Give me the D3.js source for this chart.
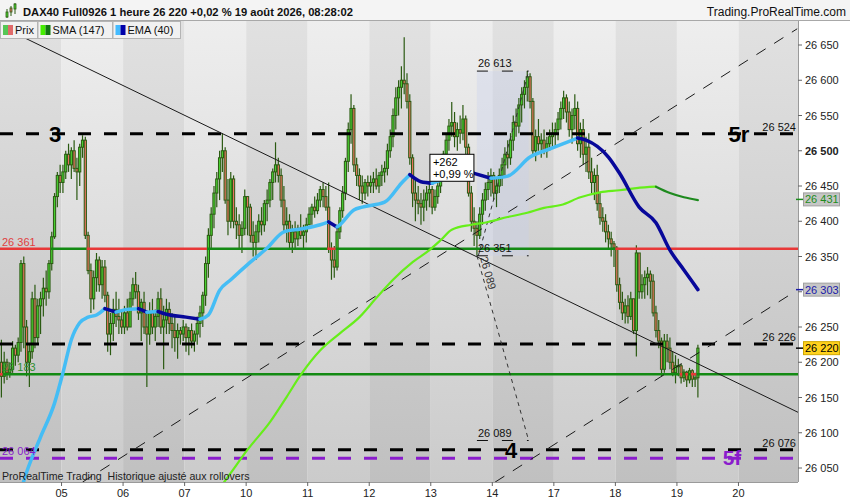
<!DOCTYPE html>
<html>
<head>
<meta charset="utf-8">
<script src="https://cdn.jsdelivr.net/npm/d3@7"></script>
<style>
  body { margin: 0; background: #fff; }
  svg { display: block; font-family: "Liberation Sans", Arial, sans-serif; }
</style>
</head>
<body>
<svg id="chart" width="850" height="500"></svg>
<script>
// ---- data ----------------------------------------------------------------
// prices are stored as points above BASE; each bar is [high, low, close]
// and opens at the previous close
const BASE = 26000;
const firstOpen = 26200;
const barsPerDay = 22;
const dayLabels = ["05", "06", "07", "10", "11", "12", "13", "14", "17", "18", "19", "20"];

const day04 = [[232,150,180],[215,170,200],[205,175,185],[200,178,190],[230,185,220],[225,195,210],[235,200,228],[345,215,340],[350,220,250],[260,180,200],[225,165,215],[300,205,290],[310,220,235],[290,225,280],[300,240,290],[320,265,305],[330,280,300],[345,290,340],[385,330,378],[440,375,435],[470,420,465],[480,440,455]];
const day05 = [[480,440,470],[500,460,495],[510,470,480],[505,460,500],[515,470,475],[490,430,470],[510,450,505],[522,490,515],[520,375,380],[385,325,330],[340,270,290],[330,275,320],[355,300,345],[350,300,310],[345,290,335],[345,285,295],[300,215,240],[270,210,255],[290,230,275],[300,250,265],[290,240,260],[275,240,250]];
const day06 = [[280,240,270],[290,245,250],[300,250,290],[320,280,310],[328,290,300],[310,260,270],[290,230,285],[300,240,250],[270,165,240],[285,225,270],[290,240,250],[275,230,265],[300,250,290],[305,240,250],[280,190,260],[290,240,275],[285,240,255],[270,220,245],[265,215,235],[255,205,245],[250,225,240],[260,230,250]];
const day07 = [[255,215,235],[250,210,245],[255,220,230],[245,215,240],[265,225,255],[280,235,270],[300,250,295],[350,280,340],[390,320,380],[420,360,410],[450,390,440],[470,420,460],[500,430,490],[525,470,500],[505,425,430],[460,380,400],[470,390,460],[465,390,400],[420,375,395],[410,360,380],[400,355,390],[445,380,435]];
const day10 = [[430,380,420],[425,370,380],[400,350,370],[395,345,385],[410,370,400],[420,380,395],[430,385,425],[445,400,430],[460,420,455],[475,430,470],[512,455,480],[490,455,465],[475,420,430],[450,385,395],[420,370,400],[410,360,370],[395,355,385],[400,360,375],[395,365,390],[410,375,380],[395,360,385],[405,370,395]];
const day11 = [[420,395,410],[425,395,420],[435,405,415],[440,410,430],[450,420,445],[455,420,435],[450,415,420],[455,355,360],[370,317,345],[365,320,335],[395,330,385],[420,375,415],[450,405,440],[490,430,485],[540,470,530],[580,510,560],[565,470,480],[490,450,465],[475,430,450],[465,425,440],[460,430,455],[465,435,450]];
const day12 = [[465,440,455],[470,440,460],[475,445,450],[470,440,465],[480,450,470],[485,455,475],[510,465,500],[530,490,520],[560,505,550],[590,530,575],[600,550,590],[620,560,600],[661,580,595],[610,560,570],[580,480,490],[495,420,440],[460,400,430],[450,410,425],[440,395,420],[445,400,430],[450,415,440],[455,420,445]];
const day13 = [[450,410,420],[445,415,435],[460,425,450],[480,440,470],[500,460,495],[525,480,515],[545,500,535],[569,520,540],[555,505,520],[540,500,530],[550,510,525],[565,515,545],[550,495,505],[510,435,440],[450,385,400],[420,365,390],[400,351,380],[420,375,410],[440,395,430],[455,415,445],[470,430,455],[475,435,465]];
const day14 = [[470,430,440],[460,420,450],[475,440,465],[490,450,480],[505,465,495],[515,475,490],[525,480,515],[550,500,540],[560,520,535],[575,525,565],[590,540,580],[600,560,590],[613,570,605],[610,560,570],[575,495,500],[530,485,520],[545,500,510],[525,490,515],[530,495,500],[520,490,510],[530,500,520],[540,505,525]];
const day17 = [[540,505,530],[555,515,545],[570,530,560],[585,545,575],[580,540,555],[570,520,530],[560,510,550],[580,530,560],[570,500,510],[540,490,530],[545,480,495],[520,470,505],[525,460,470],[490,440,455],[475,430,465],[480,415,425],[440,395,405],[420,385,400],[410,370,385],[395,360,375],[385,350,368],[372,335,362]];
const day18 = [[365,300,310],[320,275,285],[300,260,270],[290,255,280],[295,255,265],[300,260,290],[290,240,245],[366,208,355],[350,290,300],[325,290,310],[330,290,320],[335,295,325],[330,290,315],[325,265,270],[280,235,245],[260,220,230],[235,180,190],[240,185,230],[240,200,220],[235,190,200],[215,180,185],[210,170,195]];
const day19 = [[205,180,195],[198,170,178],[190,172,186],[188,165,175],[192,170,188],[190,165,176],[185,165,178],[225,150,220]];

// moving averages: [bar index, value above BASE]
const sma147 = [[76,10],[82,43],[88,76],[96,115],[102,151],[107,182],[114,217],[121,241],[128,264],[134,291],[140,317],[147,342],[153,359],[157,373],[161,388],[168,395],[174,399],[181,406],[188,412],[194,419],[200,423],[207,434],[214,441],[221,444],[227,447],[234,449],[239,440],[244,434],[249,430]];
const ema40 = [[6,5],[9,44],[14,94],[19,142],[22,185],[25,232],[28,256],[31,264],[34,267],[37,276],[41,271],[45,275],[49,276],[52,271],[56,272],[59,268],[66,264],[71,261],[74,267],[78,302],[82,317],[89,342],[95,362],[101,385],[107,389],[114,395],[117,399],[120,392],[121,395],[126,416],[129,420],[137,427],[143,454],[146,466],[150,456],[154,454],[159,461],[169,468],[175,461],[181,464],[189,491],[197,504],[206,518],[209,515],[217,491],[221,468],[228,420],[234,398],[239,359],[244,331],[249,303]];

// drawn levels
const blackLevels = [26524, 26226, 26076];
const purpleLevel = 26064;
const switchLevels = [26361, 26183];      // green above price, red below
const axisTicks = [26050, 26100, 26150, 26200, 26250, 26300, 26350, 26400, 26450, 26500, 26550, 26600, 26650];

// trend lines: [[bar, price], [bar, price]]
const trendDown = [[-0.5, 26677], [284.8, 26129]];
const channelUpper = [[29, 26030], [284.5, 26673]];
const channelLower = [[176.5, 26030], [281.2, 26294]];

// measure tool
const measureStart = 170, measureEnd = 188.5;
const measureLow = 26351, measureHigh = 26613, measureProj = 26089;

// wave labels
const waveLabels = [
  { text: "3", bar: 19.2, price: 26524 },
  { text: "5r", bar: 263.7, price: 26524 },
  { text: "4", bar: 182.2, price: 26076 }
];
const waveLabelF = { text: "5f", bar: 261.2, price: 26064 };

const lastPrice = 26220, lastSma = 26431, lastEma = 26303;

// ---- setup ---------------------------------------------------------------
const svg = d3.select("#chart");
const plotRight = 798, plotTop = 21, plotBottom = 482;
const x = d3.scaleLinear().domain([-0.5, 285.5]).range([0, 800]);
const y = d3.scaleLinear().domain([26050, 26650]).range([468, 45]);
const fmt = d3.formatLocale({ decimal: ",", thousands: " ", grouping: [3], currency: ["", ""] }).format(",d");

const GREEN_BODY = "#48d030", RED_BODY = "#e8735f", OUTLINE = "#2b5a12";

const allBars = [].concat(day04, day05, day06, day07, day10, day11, day12, day13, day14, day17, day18, day19);
let prevClose = firstOpen;
const candles = allBars.map(function(b, i) {
  const c = { i: i, o: prevClose, h: BASE + b[0], l: BASE + b[1], c: BASE + b[2] };
  c.h = Math.max(c.h, c.o, c.c);
  c.l = Math.min(c.l, c.o, c.c);
  prevClose = c.c;
  return c;
});

const defs = svg.append("defs");
function gradient(id, top, bottom) {
  const g = defs.append("linearGradient").attr("id", id)
    .attr("gradientUnits", "userSpaceOnUse")
    .attr("x1", 0).attr("x2", 0).attr("y1", plotTop).attr("y2", plotBottom);
  g.append("stop").attr("offset", 0).attr("stop-color", top);
  g.append("stop").attr("offset", 1).attr("stop-color", bottom);
}
gradient("bandLight", "#eeeeee", "#cbcbcb");
gradient("bandDark", "#e1e1e1", "#c0c0c0");
defs.append("clipPath").attr("id", "plotClip")
  .append("rect").attr("x", 0).attr("y", plotTop).attr("width", plotRight).attr("height", plotBottom - plotTop);

svg.append("rect").attr("width", 850).attr("height", 500).attr("fill", "#ffffff");

// day bands
const bands = svg.append("g").attr("clip-path", "url(#plotClip)");
d3.range(dayLabels.length + 1).forEach(function(k) {
  bands.append("rect")
    .attr("x", x(k * barsPerDay - 0.5)).attr("y", plotTop)
    .attr("width", x((k + 1) * barsPerDay - 0.5) - x(k * barsPerDay - 0.5))
    .attr("height", plotBottom - plotTop)
    .attr("fill", k % 2 === 0 ? "url(#bandDark)" : "url(#bandLight)");
});

const plot = svg.append("g").attr("clip-path", "url(#plotClip)");

// measure shading
plot.append("rect")
  .attr("x", x(measureStart)).attr("y", y(measureHigh))
  .attr("width", x(measureEnd) - x(measureStart))
  .attr("height", y(measureLow) - y(measureHigh))
  .attr("fill", "#c8d2ee").attr("opacity", 0.35);

// candles
const cg = plot.append("g");
cg.selectAll("line.wick").data(candles).join("line")
  .attr("x1", d => x(d.i)).attr("x2", d => x(d.i))
  .attr("y1", d => y(d.h)).attr("y2", d => y(d.l))
  .attr("stroke", OUTLINE).attr("stroke-width", 1.2);
cg.selectAll("rect.body").data(candles).join("rect")
  .attr("x", d => x(d.i) - 1.1).attr("width", 2.2)
  .attr("y", d => y(Math.max(d.o, d.c)))
  .attr("height", d => Math.max(1, Math.abs(y(d.o) - y(d.c))))
  .attr("fill", d => d.c >= d.o ? GREEN_BODY : RED_BODY)
  .attr("stroke", OUTLINE).attr("stroke-width", 1);

// horizontal levels
blackLevels.forEach(function(v) {
  plot.append("line").attr("x1", 0).attr("x2", 795).attr("y1", y(v)).attr("y2", y(v))
    .attr("stroke", "#000").attr("stroke-width", 3).attr("stroke-dasharray", "13,13");
});
plot.append("line").attr("x1", 0).attr("x2", 795).attr("y1", y(purpleLevel)).attr("y2", y(purpleLevel))
  .attr("stroke", "#8a1ccc").attr("stroke-width", 3).attr("stroke-dasharray", "13,13");

switchLevels.forEach(function(v) {
  const runs = [];
  candles.forEach(function(d) {
    const col = d.c >= v ? "#138a13" : "#e83838";
    const last = runs[runs.length - 1];
    if (last && last.col === col) last.to = d.i + 0.5;
    else runs.push({ col: col, from: d.i - 0.5, to: d.i + 0.5 });
  });
  runs[0].from = -0.5;
  runs[runs.length - 1].to = 285.5;
  runs.forEach(function(r) {
    plot.append("line").attr("x1", x(r.from)).attr("x2", x(r.to))
      .attr("y1", y(v)).attr("y2", y(v))
      .attr("stroke", r.col).attr("stroke-width", 2.5);
  });
});

// trend lines
function segment(pts, color, width, dash) {
  const l = plot.append("line")
    .attr("x1", x(pts[0][0])).attr("y1", y(pts[0][1]))
    .attr("x2", x(pts[1][0])).attr("y2", y(pts[1][1]))
    .attr("stroke", color).attr("stroke-width", width);
  if (dash) l.attr("stroke-dasharray", dash);
}
segment(trendDown, "#1a1a1a", 1);
segment(channelUpper, "#1a1a1a", 1, "11,10");
segment(channelLower, "#1a1a1a", 1, "11,10");
segment([[measureStart, measureLow], [measureEnd, measureProj]], "#333", 1, "4,4");
segment([[measureStart + 0.5, measureLow], [measureEnd, measureHigh]], "#333", 1, "4,4");
[measureHigh, measureLow, measureProj].forEach(function(v) {
  plot.append("line").attr("x1", x(measureStart)).attr("x2", x(measureEnd))
    .attr("y1", y(v)).attr("y2", y(v))
    .attr("stroke", "#111").attr("stroke-width", 1).attr("stroke-dasharray", "11,14");
});

// moving averages, coloured by slope
function slopeCurve(points, upColor, downColor, width) {
  const gen = d3.line().x(d => x(d[0])).y(d => y(BASE + d[1])).curve(d3.curveMonotoneX);
  const runs = [];
  let cur = [points[0]], dir = null;
  for (let k = 1; k < points.length; k++) {
    const d = points[k][1] >= points[k - 1][1] ? 1 : -1;
    if (dir === null || d === dir) { cur.push(points[k]); dir = d; }
    else { runs.push({ dir: dir, pts: cur }); cur = [points[k - 1], points[k]]; dir = d; }
  }
  runs.push({ dir: dir, pts: cur });
  runs.forEach(function(r) {
    plot.append("path").attr("d", gen(r.pts)).attr("fill", "none")
      .attr("stroke", r.dir > 0 ? upColor : downColor)
      .attr("stroke-width", width).attr("stroke-linecap", "round");
  });
}
slopeCurve(sma147, "#66ee1a", "#1e8a1e", 2.2);
slopeCurve(ema40, "#45bdf5", "#08089a", 3.5);

// ---- texts on the plot ---------------------------------------------------
const labels = svg.append("g").attr("font-size", 11);
blackLevels.forEach(function(v) {
  labels.append("text").attr("x", 796).attr("y", y(v) - 3).attr("text-anchor", "end")
    .attr("fill", "#111").text(fmt(v));
});
labels.append("text").attr("x", 2).attr("y", y(switchLevels[0]) - 3).attr("fill", "#e04040").text(fmt(switchLevels[0]));
labels.append("text").attr("x", 2).attr("y", y(switchLevels[1]) - 3).attr("fill", "#2f8f2f").text(fmt(switchLevels[1]));
labels.append("text").attr("x", 2).attr("y", y(purpleLevel) - 3).attr("fill", "#8a1ccc").text(fmt(purpleLevel));

[measureHigh, measureLow, measureProj].forEach(function(v) {
  labels.append("text").attr("x", x(measureStart) + 1).attr("y", y(v) - 4)
    .attr("fill", "#111").text(fmt(v));
});
const angle = Math.atan2(y(measureProj) - y(measureLow), x(measureEnd) - x(measureStart)) * 180 / Math.PI;
labels.append("text")
  .attr("transform", "translate(" + (x(measureStart) + 3) + "," + (y(measureLow) + 2) + ") rotate(" + angle + ")")
  .attr("fill", "#333").text(fmt(measureProj));

// change box
const bx = x(measureStart) - 47, by = y(26495);
labels.append("rect").attr("x", bx).attr("y", by).attr("width", 44).attr("height", 27)
  .attr("fill", "#fff").attr("stroke", "#000");
labels.append("text").attr("x", bx + 3).attr("y", by + 12).attr("fill", "#000").text("+" + (measureHigh - measureLow));
labels.append("text").attr("x", bx + 3).attr("y", by + 24).attr("fill", "#000")
  .text("+" + d3.format(".2f")((measureHigh - measureLow) / measureLow * 100).replace(".", ",") + " %");

waveLabels.forEach(function(w) {
  labels.append("text").attr("x", x(w.bar)).attr("y", y(w.price) + 8)
    .attr("text-anchor", "middle").attr("font-size", 22).attr("font-weight", "bold")
    .attr("fill", "#000").text(w.text);
});
labels.append("text").attr("x", x(waveLabelF.bar)).attr("y", y(waveLabelF.price) + 7)
  .attr("text-anchor", "middle").attr("font-size", 21).attr("font-weight", "bold")
  .attr("fill", "#8a1ccc").text(waveLabelF.text);

labels.append("text").attr("x", 2).attr("y", 480).attr("font-size", 10.6).attr("fill", "#222")
  .attr("xml:space", "preserve").text("ProRealTime Trading  Historique ajusté aux rollovers");

// ---- axes ----------------------------------------------------------------
svg.append("line").attr("x1", plotRight + 0.5).attr("x2", plotRight + 0.5).attr("y1", plotTop).attr("y2", plotBottom)
  .attr("stroke", "#9a9a9a");
svg.append("line").attr("x1", 0).attr("x2", plotRight).attr("y1", plotBottom + 0.5).attr("y2", plotBottom + 0.5)
  .attr("stroke", "#9a9a9a");
svg.append("line").attr("x1", 0).attr("x2", 850).attr("y1", plotTop - 0.5).attr("y2", plotTop - 0.5)
  .attr("stroke", "#a8a8a8");

// axis labels hidden behind the value tags are left out
const tagValues = [lastSma, lastEma, lastPrice];
const yAxis = svg.append("g").attr("font-size", 11);
axisTicks.forEach(function(v) {
  yAxis.append("line").attr("x1", plotRight).attr("x2", plotRight + 4).attr("y1", y(v)).attr("y2", y(v)).attr("stroke", "#666");
  const covered = tagValues.some(t => Math.abs(y(t) - y(v)) < 10);
  if (covered) return;
  yAxis.append("text").attr("x", 805).attr("y", y(v) + 4).attr("fill", "#222")
    .attr("font-weight", v === 26500 ? "bold" : "normal").text(fmt(v));
});

const xAxis = svg.append("g").attr("font-size", 11);
dayLabels.forEach(function(lab, k) {
  const px = x((k + 1) * barsPerDay - 0.5);
  xAxis.append("line").attr("x1", px).attr("x2", px).attr("y1", plotBottom).attr("y2", plotBottom + 4).attr("stroke", "#666");
  xAxis.append("text").attr("x", px).attr("y", 497).attr("text-anchor", "middle").attr("fill", "#222").text(lab);
});

// value tags
function tag(v, textColor, fill, stroke, tick) {
  const g = svg.append("g").attr("font-size", 11);
  g.append("line").attr("x1", plotRight - 2).attr("x2", 804).attr("y1", y(v)).attr("y2", y(v)).attr("stroke", tick).attr("stroke-width", 1.5);
  g.append("rect").attr("x", 803.5).attr("y", y(v) - 6.5).attr("width", 36).attr("height", 13)
    .attr("fill", fill).attr("stroke", stroke);
  g.append("text").attr("x", 805).attr("y", y(v) + 4).attr("fill", textColor).text(fmt(v));
}
tag(lastSma, "#1c8c1c", "#c6c6c6", "#a0a0a0", "#1c8c1c");
tag(lastEma, "#1a1aa8", "#c6c6c6", "#a0a0a0", "#1a1aa8");
tag(lastPrice, "#000", "#ffd21e", "#d0a800", "#000");

// ---- header and legend ---------------------------------------------------
svg.append("rect").attr("x", 0).attr("y", 0).attr("width", 850).attr("height", plotTop - 1).attr("fill", "#f4f4f4");
const icon = svg.append("g");
[[6, 9, 15, 12, 5, GREEN_BODY], [10, 6, 13, 8, 4, RED_BODY], [14, 3, 11, 4, 5, GREEN_BODY]].forEach(function(c) {
  icon.append("line").attr("x1", c[0] + 1).attr("x2", c[0] + 1).attr("y1", c[1]).attr("y2", c[2] + 3).attr("stroke", OUTLINE);
  icon.append("rect").attr("x", c[0]).attr("y", c[3]).attr("width", 2).attr("height", c[4])
    .attr("fill", c[5]).attr("stroke", OUTLINE).attr("stroke-width", 0.8);
});
svg.append("text").attr("x", 23).attr("y", 16).attr("font-size", 11.2).attr("font-weight", "bold").attr("fill", "#111")
  .text("DAX40 Full0926 1 heure " + fmt(lastPrice) + " +0,02 % 19 août 2026, 08:28:02");
svg.append("text").attr("x", 846).attr("y", 16).attr("font-size", 12).attr("text-anchor", "end").attr("fill", "#111")
  .text("Trading.ProRealTime.com");

const legend = [
  { name: "Prix", x0: 0, x1: 37, c1: "#55c655", c2: "#e06a6a" },
  { name: "SMA (147)", x0: 37.5, x1: 112, c1: "#44ee00", c2: "#117711" },
  { name: "EMA (40)", x0: 112.5, x1: 180, c1: "#44bbff", c2: "#0000aa" }
];
legend.forEach(function(d) {
  svg.append("rect").attr("x", d.x0 + 0.5).attr("y", plotTop + 0.5).attr("width", d.x1 - d.x0).attr("height", 17)
    .attr("fill", "#f1f1f1").attr("stroke", "#b4b4b4");
  svg.append("rect").attr("x", d.x0 + 3).attr("y", plotTop + 4).attr("width", 5).attr("height", 10).attr("fill", d.c1);
  svg.append("rect").attr("x", d.x0 + 8).attr("y", plotTop + 4).attr("width", 5).attr("height", 10).attr("fill", d.c2);
  svg.append("text").attr("x", d.x0 + 15).attr("y", plotTop + 13).attr("font-size", 11).attr("fill", "#111").text(d.name);
});
</script>
</body>
</html>
